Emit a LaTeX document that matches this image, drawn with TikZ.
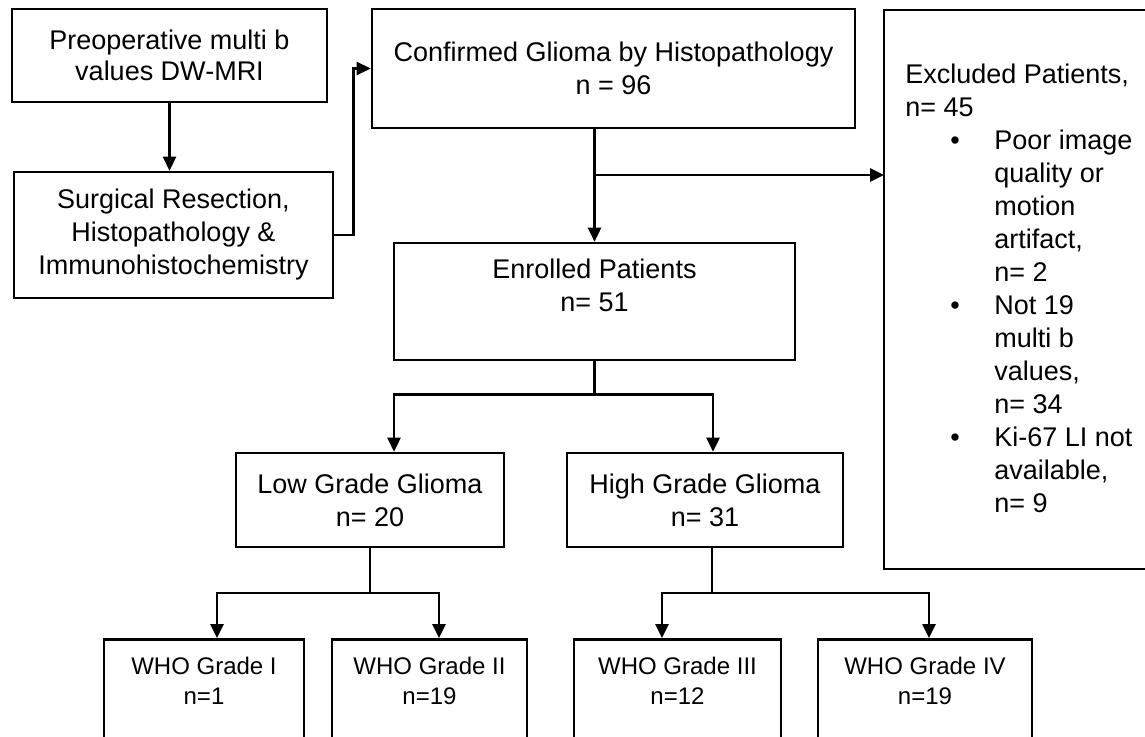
\documentclass[tikz,border=0pt]{standalone}
\usepackage{fontspec}
\setmainfont{Liberation Sans}
\usetikzlibrary{arrows.meta}
\tikzset{
  box/.style={draw,line width=2.6pt,inner sep=0pt,align=center,font=\fontsize{27}{33}\selectfont},
  whobox/.style={box,anchor=north,inner ysep=18pt,text depth=140pt,font=\fontsize{24}{30}\selectfont}
}
\begin{document}
\begin{tikzpicture}[>={Triangle[length=14pt,width=13pt]},x=1pt,y=-1pt,line width=2.6pt]
		\clip (0,0) rectangle (1145,736);
		% top row
		\node[box,minimum width=315,minimum height=93] (pre) at (169.5,55.5) {Preoperative multi b\\[-2pt]values DW-MRI};
		\node[box,minimum width=319,minimum height=126] (surg) at (173.5,235) {Surgical Resection,\\Histopathology \&\\Immunohistochemistry};
		\node[box,minimum width=483,minimum height=119] (conf) at (613.5,68.5) {Confirmed Glioma by Histopathology\\n = 96};
		\node[box,minimum width=290,minimum height=559] (excl) at (1029,289.5) {};
		\node[anchor=north west,align=left,inner sep=0pt,font=\fontsize{27}{33}\selectfont] (excltxt) at (904,63) {Excluded Patients,\\n= 45\\
			\hspace*{45pt}\makebox[44pt][l]{\textbullet}Poor image\\\hspace*{89pt}quality or\\\hspace*{89pt}motion\\\hspace*{89pt}artifact,\\\hspace*{89pt}n= 2\\
			\hspace*{45pt}\makebox[44pt][l]{\textbullet}Not 19\\\hspace*{89pt}multi b\\\hspace*{89pt}values,\\\hspace*{89pt}n= 34\\
			\hspace*{45pt}\makebox[44pt][l]{\textbullet}Ki-67 LI not\\\hspace*{89pt}available,\\\hspace*{89pt}n= 9};
		% groups
		\node[box,minimum width=401,minimum height=117] (enr) at (594.5,301.5) {Enrolled Patients\\n= 51\\\mbox{}};
		\node[box,minimum width=268,minimum height=94] (low) at (370,500) {Low Grade Glioma\\n= 20};
		\node[box,minimum width=276,minimum height=94] (high) at (705,500) {High Grade Glioma\\n= 31};
		\node[whobox,minimum width=200] (who1) at (204,638) {WHO Grade I\\n=1};
		\node[whobox,minimum width=195] (who2) at (429.5,638) {WHO Grade II\\n=19};
		\node[whobox,minimum width=207] (who3) at (677.5,638) {WHO Grade III\\n=12};
		\node[whobox,minimum width=214] (who4) at (925,638) {WHO Grade IV\\n=19};
		% arrow ends
		\coordinate (ex) at (884,175);
		\coordinate (lo) at ([xshift=24pt]low.north);
		\coordinate (hi) at ([xshift=8pt]high.north);
		\coordinate (w1) at ([xshift=13pt]who1.north);
		\coordinate (w2) at ([xshift=9.5pt]who2.north);
		\coordinate (w3) at ([xshift=-15.5pt]who3.north);
		\coordinate (w4) at ([xshift=4pt]who4.north);
		% connectors
		\draw[->] (pre.south) -- (pre.south |- surg.north);
		\draw[->] (surg.east) -- ++(19,0) |- (conf.west);
		\draw[->] (conf.south -| enr.north) -- (enr.north);
		\draw[->] (conf.south -| enr.north) |- (ex);
		\draw[->] (enr.south) |- ([yshift=57pt]lo) -- (lo);
		\draw[->] (enr.south) |- ([yshift=57pt]hi) -- (hi);
		\draw[->] (low.south) |- ([yshift=45pt]w1) -- (w1);
		\draw[->] (low.south) |- ([yshift=45pt]w2) -- (w2);
		\draw[->] ([xshift=7pt]high.south) |- ([yshift=45pt]w3) -- (w3);
		\draw[->] ([xshift=7pt]high.south) |- ([yshift=45pt]w4) -- (w4);
\end{tikzpicture}
\end{document}
